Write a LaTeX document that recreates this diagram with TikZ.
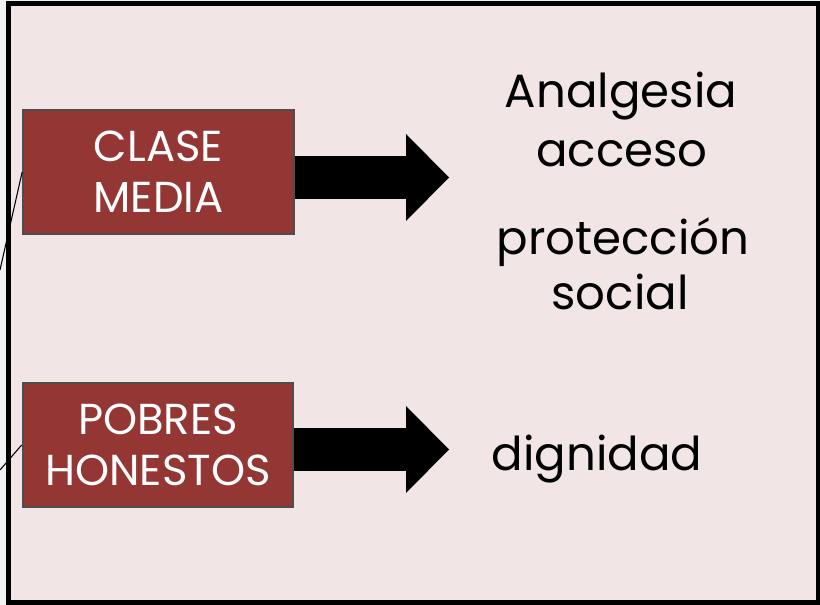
\documentclass[tikz,border=0pt]{standalone}
\usepackage{fontspec}
\setmainfont{Poppins}
\usepackage{tikz}
\usetikzlibrary{arrows.meta,positioning}

\definecolor{boxred}{HTML}{943634}
\definecolor{boxedge}{HTML}{4D4D4D}
\definecolor{slidebg}{HTML}{F1E5E6}
\definecolor{outerbg}{HTML}{F2F2F2}

\tikzset{
  classbox/.style={draw=boxedge, line width=1.5pt, fill=boxred, text=white,
    minimum width=203pt, minimum height=93pt, align=center,
    font=\fontsize{32.5}{38}\selectfont, inner sep=0pt},
  bigarrow/.style={line width=32.25pt, -{Triangle[length=32.25pt,width=65.25pt,line width=0pt]}},
  outcome/.style={anchor=base, inner sep=0pt, font=\fontsize{35}{42}\selectfont},
  leftline/.style={black, line width=0.8pt}
}

\begin{document}
\begin{tikzpicture}[x=0.75pt,y=0.75pt,yscale=-1,xscale=1]
\useasboundingbox (0,0) rectangle (820,605);

%Shape: Rectangle (background)
\fill[outerbg] (0,0) rectangle (820,605);
\fill[slidebg] (8,3) rectangle (818,602);
\draw[black, line width=3.75pt] (8.5,3.5) -- (818,3.5) -- (818,602.5) -- (8.5,602.5) -- cycle;

%Shape: Rectangle [CLASE MEDIA]
\node[classbox] (media) at (158.5,172) {CLASE\\MEDIA};
%Shape: Rectangle [POBRES HONESTOS]
\node[classbox] (pobres) at (158,445) {POBRES\\HONESTOS};

%Straight Lines
\coordinate (mediaend) at (0,270);
\coordinate (pobresend) at (0,470);
\draw[leftline] (media.west) -- (mediaend);
\draw[leftline] (pobres.west) -- (pobresend);

%Block Arrows
\coordinate (mediatip) at (449,177.5);
\coordinate (pobrestip) at (449,449.5);
\draw[bigarrow] (media.east |- mediatip) -- (mediatip);
\draw[bigarrow] (pobres.east |- pobrestip) -- (pobrestip);

% Text Node
\node[outcome] (analgesia) at (621,108) {Analgesia};
% Text Node
\node[outcome] (acceso) at (622,167) {acceso};
% Text Node
\node[outcome] (proteccion) at (623,255) {protección};
% Text Node
\node[outcome] (social) at (620,310) {social};
% Text Node
\node[outcome] (dignidad) at (597,470) {dignidad};

\end{tikzpicture}
\end{document}
